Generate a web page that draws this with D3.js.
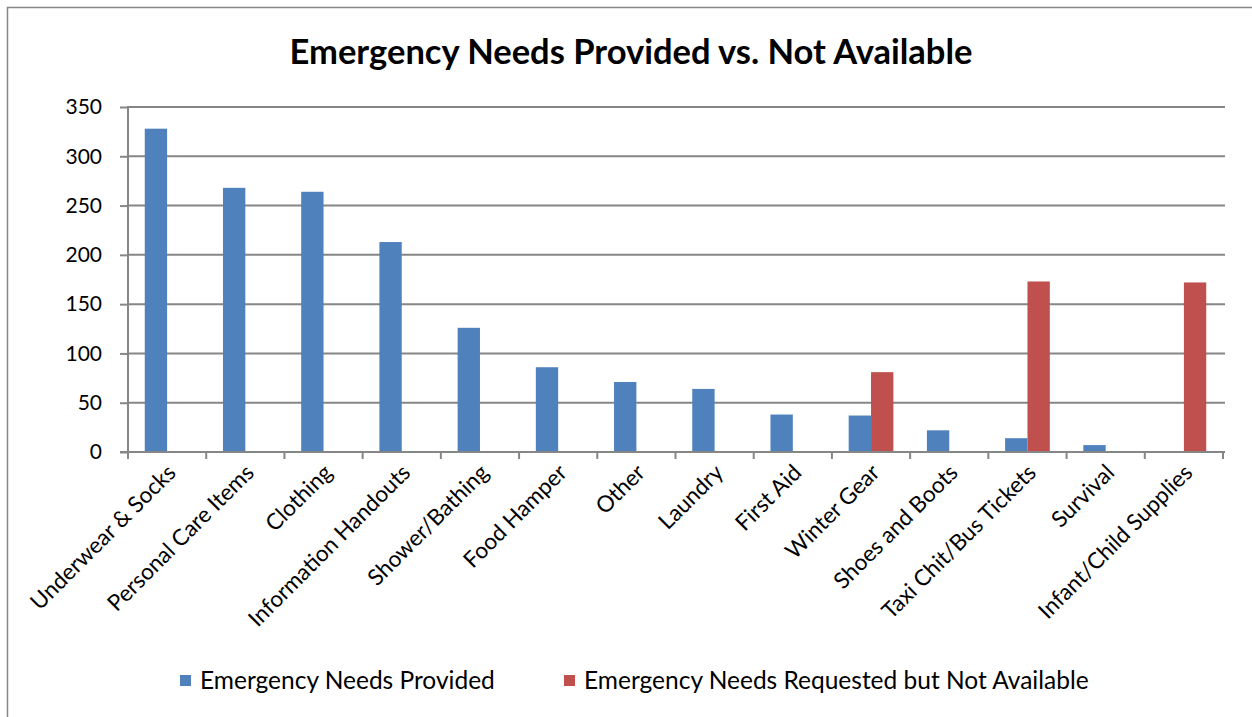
<!DOCTYPE html>
<html>
<head>
<meta charset="utf-8">
<script src="https://cdn.jsdelivr.net/npm/d3@7"></script>
<style>
  html, body { margin: 0; padding: 0; background: #fff; }
  svg { display: block; }
  text { font-family: Lato, "Open Sans", "DejaVu Sans", sans-serif; fill: #000; }
</style>
</head>
<body>
<svg id="chart" width="1252" height="717"></svg>
<script>
// Categories and the two series
const categories = [
  "Underwear & Socks", "Personal Care Items", "Clothing", "Information Handouts",
  "Shower/Bathing", "Food Hamper", "Other", "Laundry", "First Aid", "Winter Gear",
  "Shoes and Boots", "Taxi Chit/Bus Tickets", "Survival", "Infant/Child Supplies"
];
const provided = [328, 268, 264, 213, 126, 86, 71, 64, 38, 37, 22, 14, 7, 1];
const notAvailable = [0, 0, 0, 0, 0, 1, 0, 0, 0, 81, 0, 173, 0, 172];
const seriesNames = ["Emergency Needs Provided", "Emergency Needs Requested but Not Available"];
const seriesColors = ["#4f81bd", "#c0504d"];
const yTicks = [0, 50, 100, 150, 200, 250, 300, 350];
const chartTitle = "Emergency Needs Provided vs. Not Available";

const svg = d3.select("#chart");
const plot = { left: 128, right: 1223, top: 107, bottom: 452 };

// Outer chart frame
svg.append("rect")
  .attr("x", 7.5).attr("y", 7.5)
  .attr("width", 1260).attr("height", 720)
  .attr("fill", "#fff").attr("stroke", "#868686").attr("stroke-width", 1.5);

const x = d3.scaleBand().domain(categories).range([plot.left, plot.right]).paddingInner(0).paddingOuter(0);
const y = d3.scaleLinear().domain([0, 350]).range([plot.bottom, plot.top]);

// Two bars per category, 150% gap width
const barW = x.bandwidth() / 3.5;
const x1 = d3.scaleBand().domain([0, 1]).range([0.75 * barW, 2.75 * barW]).padding(0);

// Horizontal gridlines
svg.append("g")
  .selectAll("line").data(yTicks.filter(d => d > 0)).join("line")
  .attr("x1", plot.left).attr("x2", plot.right + 2)
  .attr("y1", d => y(d)).attr("y2", d => y(d))
  .attr("stroke", "#868686").attr("stroke-width", 2);

// Bars
const series = [provided, notAvailable];
series.forEach((vals, si) => {
  svg.append("g")
    .selectAll("rect").data(vals).join("rect")
    .attr("x", (d, i) => x(categories[i]) + x1(si))
    .attr("width", x1.bandwidth())
    .attr("y", d => y(d))
    .attr("height", d => y(0) - y(d))
    .attr("fill", seriesColors[si]);
});

// Y axis
const yAxis = svg.append("g")
  .attr("transform", `translate(${plot.left},0)`)
  .call(d3.axisLeft(y).tickValues(yTicks).tickSize(8).tickPadding(18).tickFormat(d3.format("d")));
yAxis.select(".domain").attr("stroke", "#868686").attr("stroke-width", 2).attr("d", `M0,${plot.top - 1}V${plot.bottom}`);
yAxis.selectAll(".tick line").attr("stroke", "#868686").attr("stroke-width", 2);
yAxis.selectAll(".tick text").attr("font-size", 21).attr("fill", "#000")
  .style("font-family", "Lato, sans-serif");

// X axis
const xAxis = svg.append("g")
  .attr("transform", `translate(0,${plot.bottom})`);
xAxis.append("line")
  .attr("x1", plot.left - 8).attr("x2", plot.right + 2)
  .attr("y1", 0).attr("y2", 0)
  .attr("stroke", "#868686").attr("stroke-width", 2);
const tickPos = categories.map(c => x(c)).concat([plot.right]);
xAxis.selectAll("line.tk").data(tickPos).join("line")
  .attr("class", "tk")
  .attr("x1", d => d).attr("x2", d => d)
  .attr("y1", 0).attr("y2", 7)
  .attr("stroke", "#868686").attr("stroke-width", 2);
xAxis.selectAll("text").data(categories).join("text")
  .attr("text-anchor", "end")
  .attr("font-size", 22.5)
  .attr("transform", d => `translate(${x(d) + x.bandwidth() / 2 + 10},${22}) rotate(-45)`)
  .text(d => d);

// Title
svg.append("text")
  .attr("x", 631).attr("y", 64)
  .attr("text-anchor", "middle")
  .attr("font-size", 34.5).attr("font-weight", "bold")
  .text(chartTitle);

// Legend
const legend = svg.append("g");
const legendItems = [{ x: 180, tx: 200 }, { x: 564, tx: 584 }];
legendItems.forEach((it, i) => {
  legend.append("rect").attr("x", it.x).attr("y", 675).attr("width", 11).attr("height", 11).attr("fill", seriesColors[i]);
  legend.append("text").attr("x", it.tx).attr("y", 689).attr("font-size", 24.5).text(seriesNames[i]);
});
</script>
</body>
</html>
